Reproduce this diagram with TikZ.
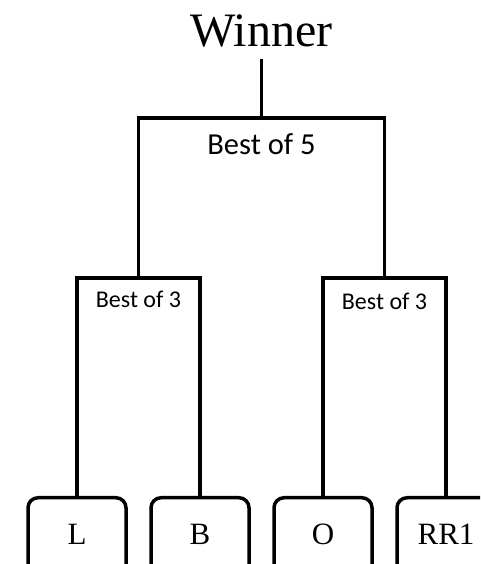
\documentclass[tikz,border=0pt]{standalone}
\usepackage{fontspec}
\setmainfont{Liberation Serif}
\newfontfamily\calibri{Carlito}
\usetikzlibrary{calc}
\usetikzlibrary{positioning}

\begin{document}
\begin{tikzpicture}[x=1pt,y=1pt,line width=3.5pt,node distance=21.5pt,
  team/.style={draw,rounded corners=10pt,minimum width=98pt,inner sep=0pt,
    text height=47pt,text depth=40pt,anchor=north,
    font=\fontsize{31}{31}\selectfont},
  round/.style={inner sep=0pt,anchor=base,font=\calibri\fontsize{24}{24}\selectfont}]
 \useasboundingbox (0,0) rectangle (480,564);
 \clip (0,0) rectangle (480,564);
 \node[team] (L) at (77,68) {L};
 \node[team,right=of L] (B) {B};
 \node[team,right=of B] (O) {O};
 \node[team,right=of O] (RR1) {RR1};
 \coordinate (sl) at ($(L.north)!.5!(B.north)+(0,218)$);
 \coordinate (sr) at ($(O.north)!.5!(RR1.north)+(0,218)$);
 \coordinate (f) at ($(sl)!.5!(sr)+(0,160)$);
 \node[inner sep=0pt,anchor=base,font=\fontsize{48}{48}\selectfont]
   (winner) at ($(f)+(0,71)$) {Winner};
 \node[round,font=\calibri\fontsize{30.5}{30.5}\selectfont] (bo5) at ($(f)+(0,-37)$) {Best of 5};
 \node[round] (bo3l) at ($(sl)+(0,-30)$) {Best of 3};
 \node[round] (bo3r) at ($(sr)+(0,-32)$) {Best of 3};
 \draw[shorten <=10pt] (winner) -- (f);
 \draw (sl) |- (f) -| (sr);
 \draw (L) |- (sl) -| (B);
 \draw (O) |- (sr) -| (RR1);
\end{tikzpicture}
\end{document}
